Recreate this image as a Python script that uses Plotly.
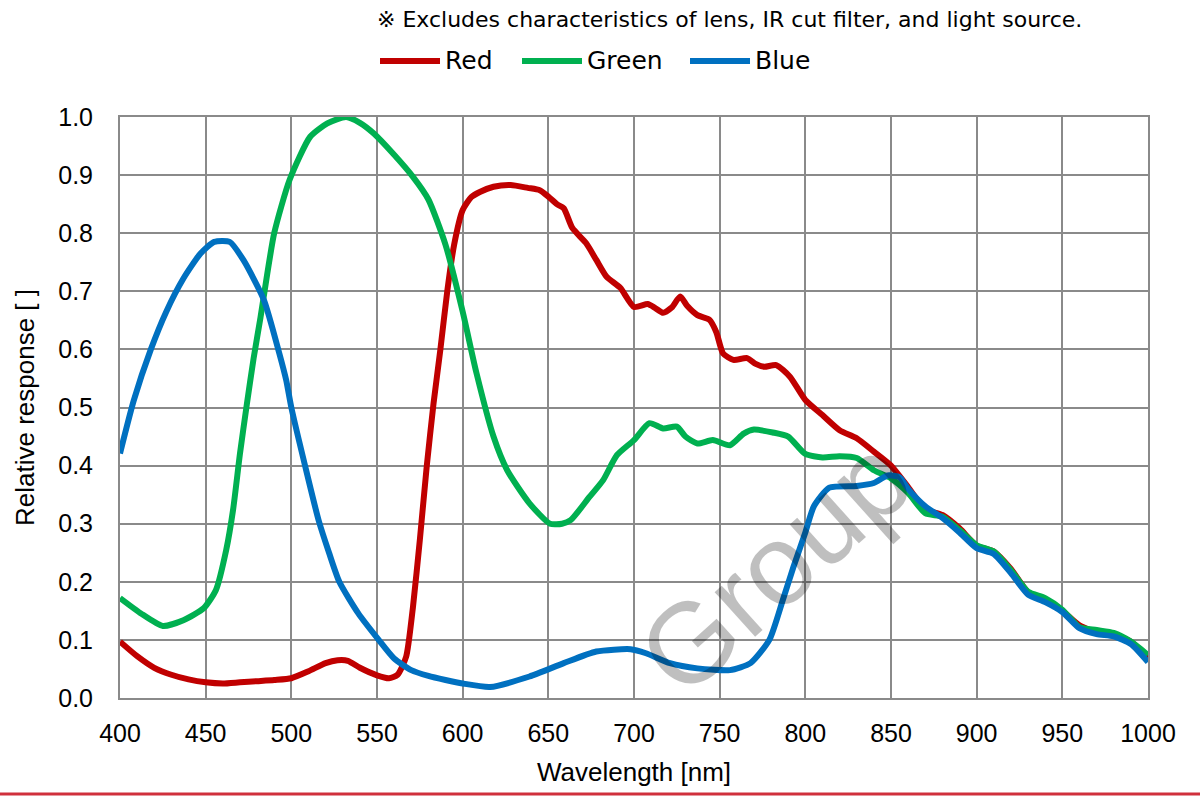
import plotly.graph_objects as go

# ---- data ----
red_nm = [400, 410, 420, 430, 440, 450, 460, 470, 480, 490, 500, 510, 520, 527, 533, 540, 550, 557, 562,
          567, 571, 575, 579, 583, 587, 591, 595, 600, 605, 610, 618, 628, 638, 645, 650, 655, 659, 664,
          672, 678, 684, 692, 700, 708, 712, 717, 722, 727, 731, 737, 744, 748, 752, 758, 766, 771, 776,
          783, 791, 800, 810, 820, 830, 840, 850, 860, 870, 880, 890, 900, 910, 920, 930, 940, 950, 960,
          970, 980, 990, 1000]
red_val = [0.097, 0.072, 0.052, 0.040, 0.032, 0.027, 0.025, 0.027, 0.029, 0.031, 0.034, 0.046, 0.060,
           0.065, 0.064, 0.052, 0.039, 0.034, 0.040, 0.071, 0.157, 0.272, 0.398, 0.507, 0.600, 0.700,
           0.780, 0.840, 0.862, 0.871, 0.880, 0.883, 0.878, 0.874, 0.863, 0.850, 0.843, 0.809, 0.783,
           0.754, 0.725, 0.706, 0.673, 0.678, 0.672, 0.663, 0.672, 0.691, 0.675, 0.659, 0.651, 0.630,
           0.593, 0.582, 0.585, 0.575, 0.570, 0.573, 0.553, 0.513, 0.487, 0.461, 0.447, 0.424, 0.400,
           0.363, 0.325, 0.315, 0.292, 0.262, 0.252, 0.222, 0.182, 0.170, 0.150, 0.125, 0.113, 0.110,
           0.097, 0.068]

green_nm = [400, 412, 425, 437, 449, 456, 462, 466, 470, 474, 478, 482, 490, 499, 511, 521, 532, 540,
            548, 560, 571, 580, 590, 600, 608, 618, 626, 639, 651, 658, 663, 674, 682, 690, 700, 709,
            717, 725, 730, 737, 746, 756, 764, 770, 781, 790, 800, 810, 820, 830, 840, 850, 860, 870,
            880, 890, 900, 910, 920, 930, 940, 950, 960, 970, 980, 990, 1000]
green_val = [0.172, 0.146, 0.124, 0.134, 0.155, 0.186, 0.255, 0.324, 0.420, 0.505, 0.585, 0.655, 0.800,
             0.892, 0.966, 0.989, 1.000, 0.990, 0.972, 0.935, 0.897, 0.858, 0.780, 0.665, 0.560, 0.450,
             0.392, 0.335, 0.300, 0.300, 0.306, 0.346, 0.375, 0.418, 0.444, 0.473, 0.464, 0.467, 0.450,
             0.438, 0.444, 0.435, 0.455, 0.462, 0.457, 0.450, 0.420, 0.414, 0.416, 0.413, 0.392, 0.378,
             0.353, 0.318, 0.312, 0.289, 0.263, 0.252, 0.220, 0.183, 0.172, 0.152, 0.122, 0.117, 0.112,
             0.097, 0.074]

blue_nm = [400, 408, 418, 427, 437, 447, 455, 464, 472, 484, 493, 497, 500, 508, 516, 522, 528, 539,
           551, 560, 570, 580, 590, 600, 616, 639, 659, 678, 698, 707, 721, 737, 756, 768, 779, 787, 793,
           800, 805, 814, 830, 840, 848, 855, 860, 870, 880, 890, 900, 910, 920, 930, 940, 950, 960, 970,
           980, 990, 1000]
blue_val = [0.421, 0.512, 0.600, 0.665, 0.722, 0.765, 0.785, 0.785, 0.754, 0.685, 0.593, 0.547, 0.500,
            0.400, 0.305, 0.250, 0.200, 0.146, 0.100, 0.068, 0.048, 0.038, 0.031, 0.025, 0.019, 0.037,
            0.060, 0.080, 0.084, 0.077, 0.060, 0.051, 0.048, 0.060, 0.100, 0.170, 0.225, 0.285, 0.330,
            0.362, 0.365, 0.370, 0.383, 0.380, 0.360, 0.330, 0.310, 0.285, 0.258, 0.248, 0.215, 0.178,
            0.165, 0.148, 0.120, 0.110, 0.106, 0.093, 0.062]

series_names = ["Red", "Green", "Blue"]
series_colors = ["#C00000", "#00B050", "#0070C0"]
x_ticks = [400, 450, 500, 550, 600, 650, 700, 750, 800, 850, 900, 950, 1000]
y_ticks = [0.0, 0.1, 0.2, 0.3, 0.4, 0.5, 0.6, 0.7, 0.8, 0.9, 1.0]

note_text = "※ Excludes characteristics of lens, IR cut filter, and light source."

# ---- layout geometry (pixels) ----
W, H = 1200, 796
L, R, T, B = 120, 1148, 117, 698
pw, ph = R - L, B - T


def px(x):
    return (x - L) / pw


def py(y):
    return (B - y) / ph


fig = go.Figure()
for nm, val, name, col in zip([red_nm, green_nm, blue_nm], [red_val, green_val, blue_val],
                              series_names, series_colors):
    fig.add_trace(go.Scatter(x=nm, y=val, mode="lines", name=name,
                             line=dict(color=col, width=6, shape="spline", smoothing=0.6),
                             showlegend=False))

grid_col = "#8a8a8a"
axis_font = "Liberation Sans, Arial, sans-serif"
fig.update_layout(
    width=W, height=H,
    margin=dict(l=L, r=W - R, t=T, b=H - B, pad=0),
    paper_bgcolor="white", plot_bgcolor="white",
    font=dict(family=axis_font, size=25, color="#000"),
    xaxis=dict(range=[400, 1000], tickvals=x_ticks, ticktext=[str(v) for v in x_ticks],
               showgrid=True, gridcolor=grid_col, gridwidth=2,
               showline=True, linecolor=grid_col, linewidth=2, mirror=True,
               zeroline=False, ticks="", ticklabelstandoff=12,
               title=dict(text="Wavelength [nm]", standoff=17, font=dict(size=26, family=axis_font))),
    yaxis=dict(range=[0, 1.0], tickvals=y_ticks, ticktext=[f"{v:.1f}" for v in y_ticks],
               showgrid=True, gridcolor=grid_col, gridwidth=2,
               showline=True, linecolor=grid_col, linewidth=2, mirror=True,
               zeroline=False, ticks="", ticklabelstandoff=20,
               title=dict(text="Relative response [ ]", standoff=16, font=dict(size=26, family=axis_font))),
)

shapes = []
annotations = []
# manual legend
leg_y = 61
leg_items = [(380, 440), (522, 582), (690, 750)]
for (x0, x1), name, col in zip(leg_items, series_names, series_colors):
    shapes.append(dict(type="line", xref="paper", yref="paper", x0=px(x0), x1=px(x1),
                       y0=py(leg_y), y1=py(leg_y), line=dict(color=col, width=6)))
    annotations.append(dict(xref="paper", yref="paper", x=px(x1 + 3), y=py(leg_y), text=name,
                            showarrow=False, xanchor="left", yanchor="middle",
                            font=dict(family="DejaVu Sans, Verdana, sans-serif", size=25, color="#000")))
# note
annotations.append(dict(xref="paper", yref="paper", x=px(375), y=py(20), text=note_text,
                        showarrow=False, xanchor="left", yanchor="middle",
                        font=dict(family="DejaVu Sans, Verdana, sans-serif", size=22, color="#000")))
# watermark (the part fully inside the picture)
annotations.append(dict(xref="paper", yref="paper", x=px(774), y=py(566), text="Group",
                        showarrow=False, textangle=-42, xanchor="center", yanchor="middle",
                        font=dict(family=axis_font, size=114, color="rgba(0,0,0,0.25)")))
# bottom red rule
shapes.append(dict(type="line", xref="paper", yref="paper", x0=px(0), x1=px(W),
                   y0=py(794), y1=py(794), line=dict(color="#D0303C", width=3)))

fig.update_layout(shapes=shapes, annotations=annotations)
fig.write_html("out.html", config={"displayModeBar": False},
               post_script="document.body.style.margin='0';document.body.style.overflow='hidden';")
